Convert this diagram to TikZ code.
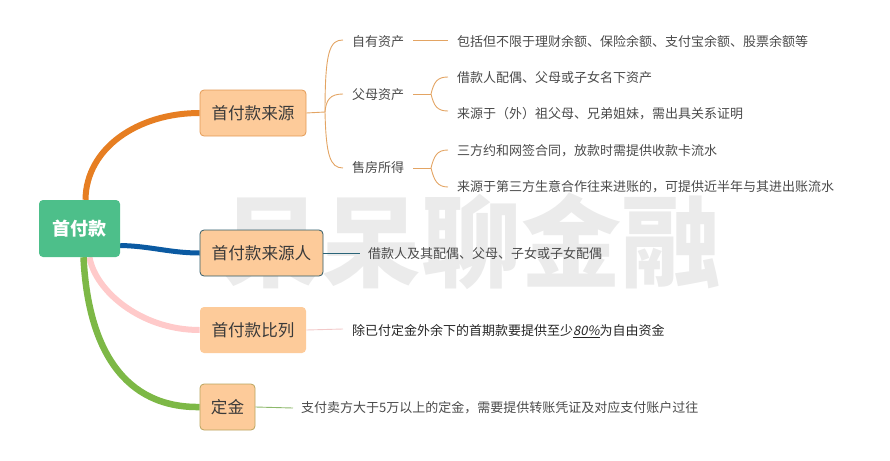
\documentclass[tikz,border=0pt]{standalone}
\usepackage{fontspec}
\setmainfont{Noto Sans CJK SC}
\newfontfamily\slantcjk[FakeSlant=0.2]{Noto Sans CJK SC}
\usetikzlibrary{backgrounds}
\definecolor{peach}{HTML}{FDCB9A}
\definecolor{rootgreen}{HTML}{4DBF8A}
\definecolor{srcborder}{HTML}{E39A55}
\definecolor{pplborder}{HTML}{2E5A68}
\definecolor{depborder}{HTML}{B8A45E}
\definecolor{bro}{HTML}{E67E22}
\definecolor{bblue}{HTML}{0B5AA2}
\definecolor{bpink}{HTML}{FFCACA}
\definecolor{bgreen}{HTML}{7DB846}
\definecolor{lorange}{HTML}{E3A463}
\definecolor{lblue}{HTML}{2A6478}
\definecolor{lpink}{HTML}{F2C9C9}
\definecolor{lgreen}{HTML}{8DB96B}
\definecolor{txtdark}{HTML}{3A3A3A}
\definecolor{txtgray}{HTML}{4A4A4A}
\definecolor{wmgray}{HTML}{EBEBEB}
\begin{document}
\begin{tikzpicture}[x=1pt,y=-1pt,
  rootbox/.style={fill=rootgreen, rounded corners=4pt, minimum width=81pt, minimum height=57pt,
    inner sep=0pt, font=\fontsize{18}{22}\selectfont\bfseries, text=white},
  topic/.style={fill=peach, rounded corners=4pt, minimum height=46pt, inner sep=0pt,
    line width=0.8pt, font=\fontsize{16.6}{20}\selectfont, text=txtdark},
  lbl/.style={anchor=west, inner sep=0pt, font=\fontsize{13}{16}\selectfont, text=txtgray},
  mainbranch/.style={line width=6pt},
  subline/.style={line width=0.9pt},
]
\useasboundingbox (0,0) rectangle (890,460);

% topics
\node[rootbox] (root) at (79.5,228.5) {首付款};
\node[topic, draw=srcborder, minimum width=106pt] (src) at (253,113) {首付款来源};
\node[topic, draw=pplborder, minimum width=123pt] (ppl) at (261.5,253) {首付款来源人};
\node[topic, minimum width=106pt] (ratio) at (253,330) {首付款比列};
\node[topic, draw=depborder, minimum width=55pt] (dep) at (227.5,407) {定金};

% second level labels
\node[lbl] (own) at (352,42) {自有资产};
\node[lbl] (par) at (352,95) {父母资产};
\node[lbl] (sale) at (352,168) {售房所得};

% leaf texts
\node[lbl] (t1) at (457,42) {包括但不限于理财余额、保险余额、支付宝余额、股票余额等};
\node[lbl] (t2) at (457,78) {借款人配偶、父母或子女名下资产};
\node[lbl] (t3) at (457,114) {来源于（外）祖父母、兄弟姐妹，需出具关系证明};
\node[lbl] (t4) at (457,151) {三方约和网签合同，放款时需提供收款卡流水};
\node[lbl] (t5) at (457,187) {来源于第三方生意合作往来进账的，可提供近半年与其进出账流水};
\node[lbl] (t6) at (368,254) {借款人及其配偶、父母、子女或子女配偶};
\node[lbl, text=black!85] (t7) at (352,331) {除已付定金外余下的首期款要提供至少\underline{{\slantcjk 80\%}}为自由资金};
\node[lbl] (t8) at (301,408) {支付卖方大于5万以上的定金，需要提供转账凭证及对应支付账户过往};

\coordinate (j1) at (325,112);
\coordinate (j2) at (431,94);
\coordinate (j3) at (431,168);

\begin{pgfonlayer}{background}
\node[font=\fontsize{100}{100}\selectfont\bfseries, text=wmgray, inner sep=0pt] (wm) at (471,241) {呆呆聊金融};

% main branches
\draw[mainbranch, bro] ([xshift=6pt]root.north) .. controls (86,148) and (138,113) .. (src.west);
\draw[mainbranch, bblue, line width=5pt] ([yshift=-17pt]root.east) .. controls (150,246) and (170,253) .. (ppl.west);
\draw[mainbranch, bpink] ([xshift=10pt]root.south) .. controls (95,290) and (140,330) .. (ratio.west);
\draw[mainbranch, bgreen, line width=6.5pt] ([xshift=4pt]root.south) .. controls (88,350) and (125,408) .. (dep.west);
\end{pgfonlayer}

% sub branches of 首付款来源
\draw[subline, lorange] (src.east) -- (j1);
\draw[subline, lorange] (j1) .. controls (325,50) and (330,40) .. ([xshift=-9pt,yshift=2pt]own.west);
\draw[subline, lorange] (j1) .. controls (326,100) and (330,94) .. ([xshift=-9pt,yshift=1pt]par.west);
\draw[subline, lorange] (j1) .. controls (326,155) and (330,168) .. ([xshift=-9pt]sale.west);

\draw[subline, lorange] ([xshift=9pt,yshift=2pt]own.east) -- ([xshift=-9pt,yshift=2pt]t1.west);
\draw[subline, lorange] ([xshift=9pt,yshift=1pt]par.east) -- (j2);
\draw[subline, lorange] (j2) .. controls (434,82) and (437,77) .. ([xshift=-9pt,yshift=1pt]t2.west);
\draw[subline, lorange] (j2) .. controls (434,106) and (437,111) .. ([xshift=-9pt,yshift=3pt]t3.west);
\draw[subline, lorange] ([xshift=9pt]sale.east) -- (j3);
\draw[subline, lorange] (j3) .. controls (434,156) and (437,150) .. ([xshift=-9pt,yshift=1pt]t4.west);
\draw[subline, lorange] (j3) .. controls (434,180) and (437,187) .. ([xshift=-9pt]t5.west);

% single leaf lines
\draw[subline, lblue] (ppl.east) -- ([xshift=-8pt,yshift=1pt]t6.west);
\draw[subline, lpink] (ratio.east) -- ([xshift=-9pt,yshift=2pt]t7.west);
\draw[subline, lgreen] (dep.east) -- ([xshift=-8pt]t8.west);
\end{tikzpicture}
\end{document}
